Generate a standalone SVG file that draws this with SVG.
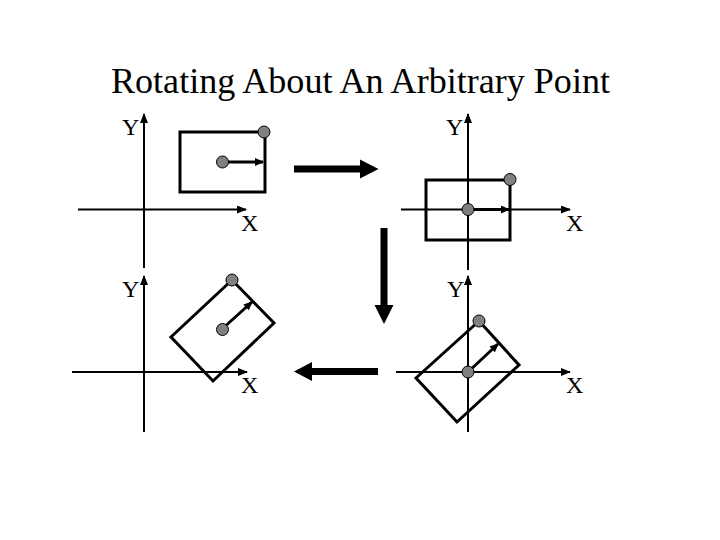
<svg xmlns="http://www.w3.org/2000/svg" width="720" height="540" viewBox="0 0 720 540">
<style>
.t{font-family:"Liberation Serif","Times New Roman",serif;fill:#000}
.title{font-size:35px}
.lbl{font-size:24px}
.axis{stroke:#000;stroke-width:2;fill:none}
.box{stroke:#000;stroke-width:3;fill:none}
.vec{stroke:#000;stroke-width:3;fill:none}
.dot{fill:#808080;stroke:#000;stroke-width:1}
.big{fill:#000}
</style>
<defs>
<marker id="ah" markerWidth="10" markerHeight="8" refX="9" refY="4" orient="auto" markerUnits="userSpaceOnUse">
<path d="M0,0 L10,4 L0,8 Z" fill="#000"/>
</marker>
<marker id="vh" markerWidth="9" markerHeight="8" refX="8" refY="4" orient="auto" markerUnits="userSpaceOnUse">
<path d="M0,0 L9,4 L0,8 Z" fill="#000"/>
</marker>
</defs>
<rect width="720" height="540" fill="#fff"/>
<text class="t title" x="111" y="93" textLength="499" lengthAdjust="spacingAndGlyphs">Rotating About An Arbitrary Point</text>

<g id="panel1">
<line class="axis" x1="78" y1="209.5" x2="246" y2="209.5" marker-end="url(#ah)"/>
<line class="axis" x1="144" y1="268" x2="144" y2="114" marker-end="url(#ah)"/>
<text class="t lbl" x="122" y="135">Y</text>
<text class="t lbl" x="241" y="231">X</text>
<rect class="box" x="180" y="132" width="85" height="60"/>
<line class="vec" x1="222" y1="162" x2="263" y2="162" marker-end="url(#vh)"/>
<circle class="dot" cx="222.5" cy="162" r="6"/>
<circle class="dot" cx="264" cy="132" r="6"/>
</g>

<g id="panel2">
<line class="axis" x1="401" y1="209.5" x2="570" y2="209.5" marker-end="url(#ah)"/>
<line class="axis" x1="468" y1="270" x2="468" y2="114" marker-end="url(#ah)"/>
<text class="t lbl" x="446" y="135">Y</text>
<text class="t lbl" x="566" y="231">X</text>
<rect class="box" x="426" y="180" width="84" height="60"/>
<line class="vec" x1="468" y1="209.5" x2="509" y2="209.5" marker-end="url(#vh)"/>
<circle class="dot" cx="468" cy="209.5" r="6"/>
<circle class="dot" cx="510" cy="179.5" r="6"/>
</g>

<g id="panel3">
<line class="axis" x1="72" y1="372" x2="247" y2="372" marker-end="url(#ah)"/>
<line class="axis" x1="144" y1="432" x2="144" y2="276" marker-end="url(#ah)"/>
<text class="t lbl" x="122" y="297">Y</text>
<text class="t lbl" x="241" y="393">X</text>
<polygon class="box" points="232,280 274,323 213,381 171,337"/>
<line class="vec" x1="222" y1="329" x2="252" y2="302" marker-end="url(#vh)"/>
<circle class="dot" cx="222.5" cy="329.5" r="6"/>
<circle class="dot" cx="232" cy="280" r="6"/>
</g>

<g id="panel4">
<line class="axis" x1="396" y1="372" x2="570" y2="372" marker-end="url(#ah)"/>
<line class="axis" x1="468" y1="432" x2="468" y2="276" marker-end="url(#ah)"/>
<text class="t lbl" x="447" y="297">Y</text>
<text class="t lbl" x="566" y="393">X</text>
<polygon class="box" points="479,321 519,365 457,422 416,378"/>
<line class="vec" x1="468" y1="372" x2="498" y2="344" marker-end="url(#vh)"/>
<circle class="dot" cx="468" cy="372" r="6"/>
<circle class="dot" cx="479" cy="321" r="6"/>
</g>

<g id="connectors">
<path class="big" d="M294,165.5 L360,165.5 L360,159.5 L378.5,169 L360,178.5 L360,172.5 L294,172.5 Z"/>
<path class="big" d="M380.5,228 L387.5,228 L387.5,305 L393.5,305 L384,324 L374.5,305 L380.5,305 Z"/>
<path class="big" d="M378,368 L312,368 L312,362 L294,371.5 L312,381 L312,375 L378,375 Z"/>
</g>
</svg>
